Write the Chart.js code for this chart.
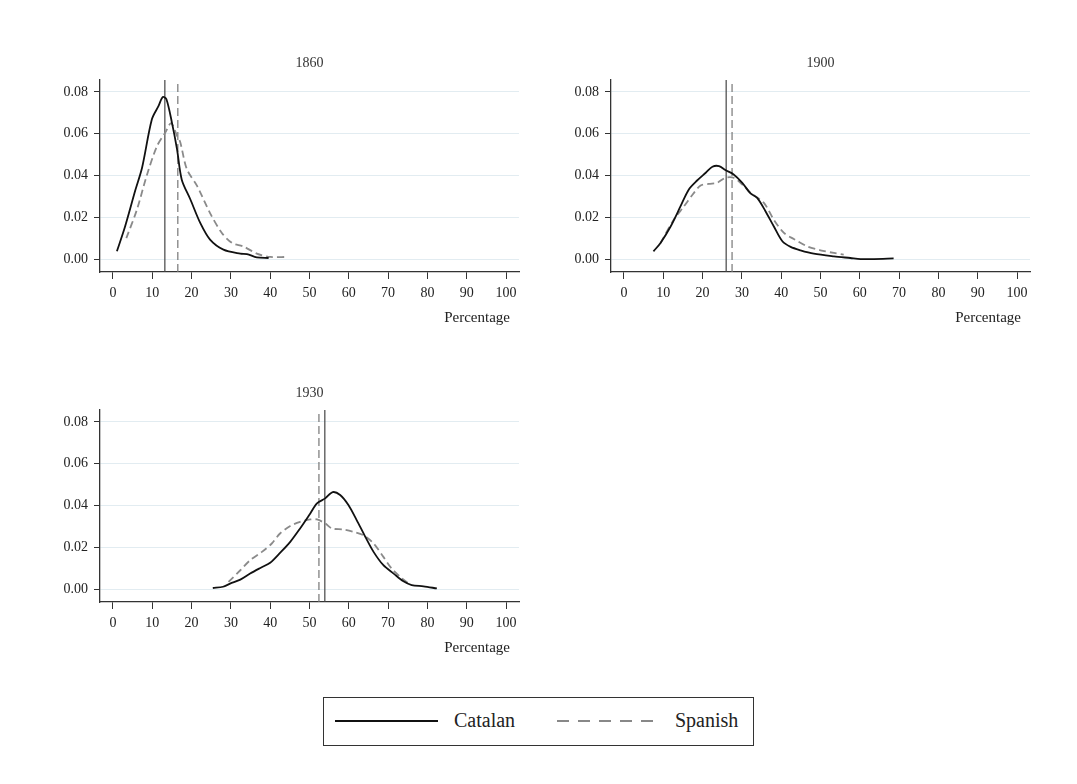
<!DOCTYPE html>
<html>
<head>
<meta charset="utf-8">
<script src="https://cdn.jsdelivr.net/npm/chart.js@4.4.1/dist/chart.umd.min.js"></script>
<style>
  body { margin: 0; background: #fff; width: 1077px; height: 784px; position: relative; overflow: hidden; }
  canvas { position: absolute; }
  #legend {
    position: absolute; left: 323px; top: 697px; width: 431px; height: 49px;
    box-sizing: border-box; border: 1.5px solid #333; background: #fff;
    font-family: "Liberation Serif", serif; font-size: 20px; color: #222;
  }
  #legend .sw { position: absolute; top: 22px; height: 2px; width: 103px; }
  #legend .lb { position: absolute; top: 10px; line-height: 24px; }
</style>
</head>
<body>
<canvas id="c1860" width="490" height="285" style="left:40px;top:50px"></canvas>
<canvas id="c1900" width="490" height="285" style="left:551px;top:50px"></canvas>
<canvas id="c1930" width="490" height="285" style="left:40px;top:380px"></canvas>

<div id="legend">
  <div class="sw" style="left:11px;background:#111"></div>
  <div class="lb" style="left:130px">Catalan</div>
  <div class="sw" style="left:233px;background:repeating-linear-gradient(to right,#888 0 12px,transparent 12px 21px)"></div>
  <div class="lb" style="left:351px">Spanish</div>
</div>

<script>
// --- data: [percentage, density] ---
const xTicks = [0, 10, 20, 30, 40, 50, 60, 70, 80, 90, 100];
const yTicks = [0, 0.02, 0.04, 0.06, 0.08];

const catalan1860 = [[1.0,0.0037],[3.1,0.0157],[5.7,0.033],[7.4,0.0437],[9.9,0.0669],[11.6,0.0733],[12.7,0.0776],
  [13.6,0.0765],[15.0,0.0653],[16.3,0.0525],[17.5,0.038],[19.7,0.0285],[22.2,0.0173],[24.7,0.0093],[28.1,0.0045],
  [32.4,0.0026],[34.1,0.0024],[36.6,0.0008],[39.6,0.0005]];
const spanish1860 = [[3.4,0.010],[6.1,0.0237],[8.6,0.040],[11.2,0.054],[13.3,0.0605],[14.8,0.065],[16.3,0.059],
  [17.1,0.056],[18.8,0.043],[21.4,0.035],[24.7,0.022],[27.7,0.0125],[30.3,0.0077],[33.2,0.006],[36.6,0.0026],
  [40.0,0.001],[44.2,0.001]];

const catalan1900 = [[7.5,0.0037],[9.3,0.0077],[11.9,0.0157],[14.4,0.0253],[16.5,0.0333],[18.6,0.0376],[20.8,0.0413],
  [22.5,0.0442],[24.2,0.0445],[25.8,0.0426],[27.9,0.0405],[30.1,0.0365],[32.2,0.0314],[33.9,0.0293],[36.0,0.0229],
  [38.1,0.0157],[40.3,0.0085],[42.4,0.0058],[44.9,0.0042],[48.3,0.0026],[53.4,0.0013],[57.6,0.0005],[60.2,0.0],
  [63.6,0.0],[68.6,0.0003]];
const spanish1900 = [[9.3,0.0077],[12.7,0.0189],[15.3,0.0253],[17.8,0.0317],[19.5,0.0352],[21.6,0.036],[23.7,0.0365],
  [25.8,0.0389],[27.9,0.0389],[30.1,0.0357],[32.2,0.0317],[35.6,0.0269],[38.1,0.0189],[40.7,0.0125],[43.2,0.0096],
  [46.6,0.0061],[50.0,0.0042],[53.4,0.0029],[55.9,0.0021]];

const catalan1930 = [[25.4,0.0005],[28.0,0.0011],[29.8,0.0026],[32.4,0.0045],[34.9,0.0074],[37.5,0.0101],[40.0,0.0126],
  [42.5,0.0173],[45.1,0.0226],[47.6,0.029],[50.2,0.0362],[51.9,0.041],[54.0,0.0434],[55.9,0.0464],[57.8,0.045],
  [59.9,0.0402],[62.0,0.033],[64.2,0.025],[66.3,0.0178],[68.8,0.0114],[71.4,0.0074],[73.9,0.0037],[76.0,0.0019],
  [79.0,0.0013],[82.4,0.0003]];
const spanish1930 = [[29.4,0.0034],[32.4,0.009],[34.9,0.0138],[37.9,0.0178],[40.4,0.0218],[42.5,0.0266],[45.1,0.0302],
  [47.6,0.0322],[50.2,0.0333],[51.9,0.0333],[54.0,0.0314],[55.7,0.029],[58.6,0.0285],[61.2,0.0274],[63.7,0.0258],
  [66.3,0.0218],[68.8,0.0154],[70.9,0.0098],[73.1,0.0058],[75.2,0.0026]];

// mean percentage per year (vertical reference lines)
const years = ['1860', '1900', '1930'];
const catalanMean = [13.2, 26.0, 53.9];
const spanishMean = [16.5, 27.5, 52.4];

const X_MIN = -3.3, X_MAX = 103.3, Y_MIN = -0.0062, Y_MAX = 0.0857;
const FONT = '"Liberation Serif", serif';

function toXY(arr) { return arr.map(p => ({ x: p[0], y: p[1] })); }
function vline(m) { return [{ x: m, y: Y_MIN }, { x: m, y: Y_MAX }]; }

// panel title centred over the plot area, x title a bit in from the right edge (Stata style)
const panelText = {
  id: 'panelText',
  afterDraw(chart, args, opts) {
    const { ctx, chartArea } = chart;
    ctx.save();
    ctx.fillStyle = '#333';
    ctx.textBaseline = 'middle';
    ctx.font = '14px ' + FONT;
    ctx.textAlign = 'center';
    ctx.fillText(opts.title, (chartArea.left + chartArea.right) / 2, chartArea.top - 17);
    ctx.font = '15px ' + FONT;
    ctx.textAlign = 'right';
    ctx.fillStyle = '#222';
    ctx.fillText('Percentage', chartArea.right - 9, chartArea.bottom + 46);
    ctx.restore();
  }
};

function makePanel(id, i, catalan, spanish) {
  const ctx = document.getElementById(id).getContext('2d');
  new Chart(ctx, {
    type: 'line',
    data: {
      datasets: [
        { label: 'Catalan', data: toXY(catalan), borderColor: '#111', borderWidth: 1.8, tension: 0.3 },
        { label: 'Spanish', data: toXY(spanish), borderColor: '#8a8a8a', borderWidth: 1.8, borderDash: [7, 4], tension: 0.3 },
        { label: 'mean C', data: vline(catalanMean[i]), borderColor: '#444', borderWidth: 1.2 },
        { label: 'mean S', data: vline(spanishMean[i]), borderColor: '#777', borderWidth: 1.2, borderDash: [8, 4] }
      ]
    },
    plugins: [panelText],
    options: {
      responsive: false,
      animation: false,
      devicePixelRatio: 1,
      layout: { padding: { left: 0, right: 11, top: 30, bottom: 0 } },
      elements: { point: { radius: 0 } },
      plugins: {
        legend: { display: false },
        tooltip: { enabled: false },
        title: { display: false },
        panelText: { title: years[i] }
      },
      scales: {
        x: {
          type: 'linear', min: X_MIN, max: X_MAX,
          afterBuildTicks: s => { s.ticks = xTicks.map(v => ({ value: v })); },
          afterFit: s => { s.height = 63; },
          grid: { drawOnChartArea: false, drawTicks: true, tickLength: 7, tickColor: '#333' },
          border: { display: true, color: '#333', width: 1.3 },
          ticks: { color: '#222', padding: 6, maxRotation: 0, font: { family: FONT, size: 14 } }
        },
        y: {
          type: 'linear', min: Y_MIN, max: Y_MAX,
          afterBuildTicks: s => { s.ticks = yTicks.map(v => ({ value: v })); },
          afterFit: s => { s.width = 60; },
          grid: { color: '#e2ecf1', lineWidth: 1, tickLength: 6, tickColor: '#333' },
          border: { display: true, color: '#333', width: 1.3 },
          ticks: { color: '#222', padding: 6, font: { family: FONT, size: 14 }, callback: v => v.toFixed(2) }
        }
      }
    }
  });
}

makePanel('c1860', 0, catalan1860, spanish1860);
makePanel('c1900', 1, catalan1900, spanish1900);
makePanel('c1930', 2, catalan1930, spanish1930);
</script>
</body>
</html>
